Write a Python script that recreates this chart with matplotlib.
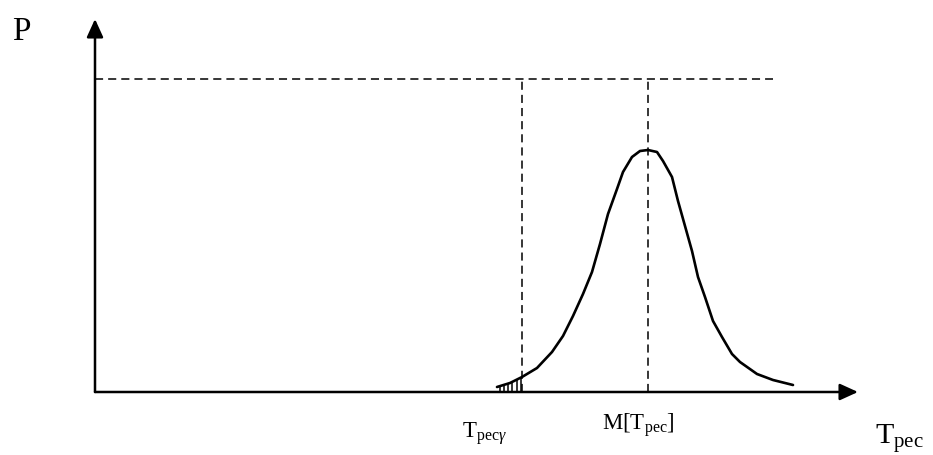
import matplotlib
matplotlib.use("Agg")
import matplotlib.pyplot as plt
import numpy as np

plt.rcParams['mathtext.fontset'] = 'custom'
plt.rcParams['mathtext.rm'] = 'Liberation Serif'
plt.rcParams['mathtext.it'] = 'Liberation Serif:italic'
plt.rcParams['font.family'] = ['Liberation Serif', 'DejaVu Serif']

# Distribution curve P(T_pec) (chart units: origin at the axes corner)
curve_x = [402, 415, 427, 442, 457, 468, 478, 488, 497, 505, 513, 522, 528, 537,
           545, 553, 562, 568, 577, 583, 590, 597, 603, 610, 618, 627, 637, 645,
           662, 678, 698]
curve_y = [5, 9, 15, 24, 40, 56, 76, 98, 120, 148, 178, 203, 220, 235,
           241, 242, 240, 231, 215, 191, 166, 141, 115, 95, 71, 55, 38, 30,
           18, 12, 7]

# shaded tail (left of T_pec gamma): hatch line positions
hatch_x = [405, 409, 413, 417, 422, 426]

t_gamma = 427      # T_pec gamma
t_mean = 553       # M[T_pec]
p_level = 313      # upper dashed level
level_end = 678
x_axis_end = 763
y_axis_end = 373

fig = plt.figure(figsize=(9.33, 4.56), dpi=100)
ax = fig.add_axes([0, 0, 1, 1])
ax.set_xlim(-95, 838)
ax.set_ylim(-63, 393)
ax.axis('off')

# axes with arrows
ap = dict(arrowstyle='-|>,head_length=1.1,head_width=0.5', lw=1.8, color='black',
          mutation_scale=10, shrinkA=0, shrinkB=0)
ax.annotate('', xy=(0, y_axis_end), xytext=(0, 0), arrowprops=ap)
ax.annotate('', xy=(x_axis_end, 0), xytext=(0, 0), arrowprops=ap)

dash = (0, (5.3, 3.3))
ax.plot([0, level_end], [p_level, p_level], color='black', lw=1.1, linestyle=dash)
ax.plot([t_gamma, t_gamma], [0, p_level], color='black', lw=1.1, linestyle=dash)
ax.plot([t_mean, t_mean], [0, p_level], color='black', lw=1.1, linestyle=dash)

ax.plot(curve_x, curve_y, color='black', lw=1.9, solid_joinstyle='round',
        solid_capstyle='round')
hatch_top = np.interp(hatch_x, curve_x, curve_y)
ax.vlines(hatch_x, 0, hatch_top, color='black', lw=1.1)

ax.text(-83, 353, 'P', fontsize=24, ha='left', va='baseline')
ax.text(780, -51, r'$\mathrm{T}_{\mathrm{pec}}$', fontsize=21.5, ha='left', va='baseline')
ax.text(367, -45, r'$\mathrm{T}_{\mathrm{pec}\gamma}$', fontsize=16.5, ha='left', va='baseline')
ax.text(507, -37, r'$\mathrm{M[T}_{\mathrm{pec}}\mathrm{]}$', fontsize=16.5, ha='left', va='baseline')

fig.savefig('out.png', dpi=100)
